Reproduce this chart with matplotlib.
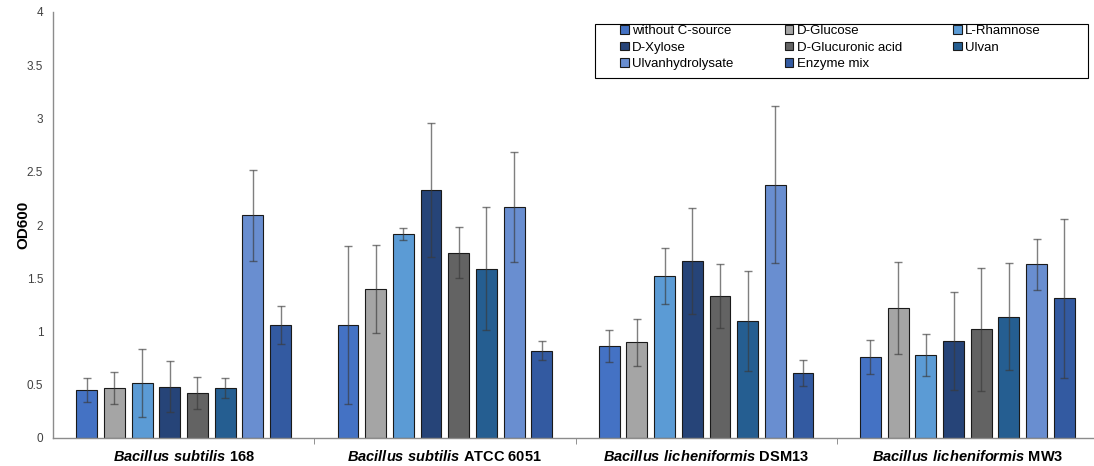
import numpy as np
import matplotlib as mpl
import matplotlib.pyplot as plt
from matplotlib.patches import Rectangle

mpl.rcParams['font.family'] = ['Liberation Sans', 'DejaVu Sans']
mpl.rcParams['mathtext.fontset'] = 'custom'
mpl.rcParams['mathtext.bfit'] = 'Liberation Sans:bold:italic'
mpl.rcParams['mathtext.rm'] = 'Liberation Sans:bold'

# strains (x groups)
strains = [r'$\mathbfit{Bacillus\ subtilis}$ 168',
           r'$\mathbfit{Bacillus\ subtilis}$ ATCC 6051',
           r'$\mathbfit{Bacillus\ licheniformis}$ DSM13',
           r'$\mathbfit{Bacillus\ licheniformis}$ MW3']

# carbon sources (series)
sources = ['without C-source', 'D-Glucose', 'L-Rhamnose', 'D-Xylose',
           'D-Glucuronic acid', 'Ulvan', 'Ulvanhydrolysate', 'Enzyme mix']
colors = ['#4472C4', '#A5A5A5', '#5B9BD5', '#264478',
          '#636363', '#255E91', '#698ED0', '#335AA1']

# OD600 means, one row per carbon source, one column per strain
od600 = [
    [0.45, 1.06, 0.86, 0.76],
    [0.47, 1.40, 0.90, 1.22],
    [0.52, 1.915, 1.52, 0.78],
    [0.48, 2.33, 1.66, 0.91],
    [0.42, 1.74, 1.33, 1.02],
    [0.47, 1.59, 1.10, 1.14],
    [2.09, 2.17, 2.38, 1.63],
    [1.06, 0.82, 0.61, 1.31],
]
# standard deviations
od600_err = [
    [0.11, 0.74, 0.15, 0.16],
    [0.15, 0.41, 0.22, 0.43],
    [0.32, 0.055, 0.26, 0.20],
    [0.24, 0.63, 0.50, 0.46],
    [0.15, 0.24, 0.30, 0.58],
    [0.09, 0.58, 0.47, 0.50],
    [0.43, 0.52, 0.74, 0.24],
    [0.18, 0.09, 0.12, 0.75],
]

yticks = [0, 0.5, 1, 1.5, 2, 2.5, 3, 3.5, 4]
ytick_labels = ['0', '0.5', '1', '1.5', '2', '2.5', '3', '3.5', '4']

fig = plt.figure(figsize=(10.94, 4.66), dpi=100)
ax = fig.add_axes([53/1094, 1 - 438/466, 1045/1094, 426/466])

centers = np.arange(len(strains)) + 0.5
pitch = 0.106
width = 0.080
n = len(sources)
bars = []
for i, (src, c) in enumerate(zip(sources, colors)):
    x = centers + (i - (n - 1) / 2) * pitch
    b = ax.bar(x, od600[i], width, color=c, edgecolor='#1a1a1a',
               linewidth=0.8, label=src, zorder=2)
    ax.errorbar(x, od600[i], yerr=od600_err[i], fmt='none',
                ecolor='#3a3a3a', alpha=0.65, elinewidth=1.0,
                capsize=3, capthick=1.0, zorder=3)
    bars.append(b)

ax.set_xlim(0, len(strains))
ax.set_ylim(0, 4)
ax.set_yticks(yticks)
ax.set_yticklabels(ytick_labels)
ax.tick_params(axis='y', length=0, labelsize=8.5, labelcolor='#404040', pad=7)
ax.set_xticks(centers)
ax.set_xticklabels(strains, fontsize=10.5, fontweight='bold')
ax.set_xticks([1, 2, 3, 4], minor=True)
ax.tick_params(axis='x', which='major', length=0, pad=8)
ax.tick_params(axis='x', which='minor', length=4, color='#808080', direction='out')
ax.set_ylabel('OD600', fontsize=11, fontweight='bold')
ax.yaxis.set_label_coords(-23/1045, 0.5)

for s in ['top', 'right']:
    ax.spines[s].set_visible(False)
for s in ['left', 'bottom']:
    ax.spines[s].set_color('#8c8c8c')
    ax.spines[s].set_linewidth(1.0)

# legend box drawn separately, entries placed inside
ax.add_patch(Rectangle((0.519, 0.845), 0.471, 0.127, transform=ax.transAxes,
                       fill=False, edgecolor='black', linewidth=0.8,
                       clip_on=False, zorder=5))
order = [0, 3, 6, 1, 4, 7, 2, 5]
leg = ax.legend([bars[k] for k in order], [sources[k] for k in order],
                ncol=3, loc='upper left',
                bbox_to_anchor=((620 - 53) / 1045, (438 - 25) / 426),
                fontsize=9.5, frameon=False,
                handlelength=0.65, handleheight=0.65, handletextpad=0.25,
                borderpad=0, labelspacing=0.35, borderaxespad=0,
                columnspacing=3.9)

fig.savefig('out.png', dpi=100)
